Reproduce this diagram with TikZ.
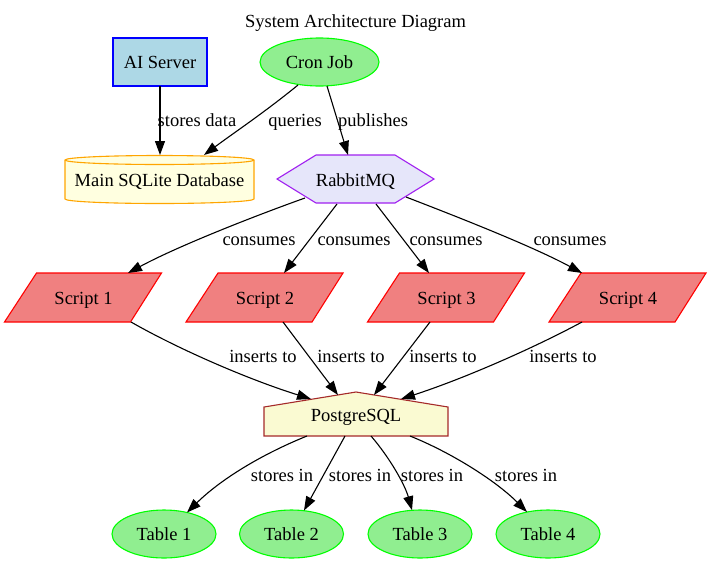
\documentclass[tikz,border=0pt]{standalone}
\usepackage{fontspec}
\setmainfont{Liberation Serif}
\usetikzlibrary{arrows.meta,calc,shapes.geometric}
\definecolor{gvlightblue}{HTML}{ADD8E6}
\definecolor{gvblue}{HTML}{0000FF}
\definecolor{gvlightgreen}{HTML}{90EE90}
\definecolor{gvgreen}{HTML}{00FF00}
\definecolor{gvlightyellow}{HTML}{FFFFE0}
\definecolor{gvorange}{HTML}{FFA500}
\definecolor{gvlavender}{HTML}{E6E6FA}
\definecolor{gvpurple}{HTML}{A020F0}
\definecolor{gvcoral}{HTML}{F08080}
\definecolor{gvred}{HTML}{FF0000}
\definecolor{gvgold}{HTML}{FAFAD2}
\definecolor{gvbrown}{HTML}{A52A2A}
\begin{document}
\begin{tikzpicture}[x=1pt,y=-1pt,
  txt/.style={font=\fontsize{18.5pt}{21pt}\selectfont, inner sep=0pt, text height=14pt, text depth=2pt},
  edge/.style={draw=black, line width=1.1pt, -{Triangle[length=14pt,width=10pt]}},
  aibox/.style={draw=gvblue, fill=gvlightblue, line width=1.1pt},
  greenell/.style={draw=gvgreen, fill=gvlightgreen, line width=1.1pt},
  dbshape/.style={draw=gvorange, fill=gvlightyellow, line width=1.1pt},
  hexshape/.style={draw=gvpurple, fill=gvlavender, line width=1.1pt},
  scriptshape/.style={draw=gvred, fill=gvcoral, line width=1.1pt},
  houseshape/.style={draw=gvbrown, fill=gvgold, line width=1.1pt}]
\useasboundingbox (0,0) rectangle (711,563);

% title
\node[txt] (title) at (355.5,21.3) {System Architecture Diagram};

% AI Server
\draw[aibox] (113,38) rectangle (207,86);
\node[txt] (ai) at (160,62.3) {AI Server};

% Cron Job
\draw[greenell] (319.5,62) ellipse[x radius=59.5, y radius=24];
\node[txt] (cron) at (319.5,62.3) {Cron Job};

% Main SQLite Database (cylinder)
\draw[dbshape] (65,160) -- (65,199) arc[start angle=180, end angle=0, x radius=94.5, y radius=4.5]
  -- (254,160) arc[start angle=0, end angle=-180, x radius=94.5, y radius=4.5] -- cycle;
\draw[draw=gvorange, line width=1.1pt] (65,160) arc[start angle=180, end angle=0, x radius=94.5, y radius=4.5];
\node[txt] (db) at (159.5,180) {Main SQLite Database};

% RabbitMQ (hexagon)
\draw[hexshape] (277,179) -- (316,155) -- (395,155) -- (434,179) -- (395,203) -- (316,203) -- cycle;
\node[txt] (rmq) at (355.5,180) {RabbitMQ};

% Scripts
\foreach \i/\x in {1/83.5,2/265,3/446.5,4/628} {
  \draw[scriptshape] (\x-79,322) -- (\x+47,322) -- (\x+78,273) -- (\x-47,273) -- cycle;
  \node[txt] (s\i) at (\x,298.3) {Script \i};
}

% PostgreSQL (house)
\draw[houseshape] (264,436) -- (264,407) -- (356,392) -- (448,407) -- (448,436) -- cycle;
\node[txt] (pg) at (356,415.7) {PostgreSQL};

% Tables
\foreach \i/\x in {1/164,2/291.5,3/420,4/548} {
  \draw[greenell] (\x,534) ellipse[x radius=52, y radius=24];
  \node[txt] (t\i) at (\x,534) {Table \i};
}

% edges top
\draw[edge] ($(ai)+(0,23.7)$) -- ($(db)+(0.5,-25)$);
\draw[edge] ($(cron)+(-21.5,22.7)$) .. controls (265,112) and (235,132) .. ($(db)+(44.5,-25)$);
\draw[edge] ($(cron)+(7.5,23.7)$) -- ($(rmq)+(-7.5,-25)$);

% RabbitMQ -> scripts
\draw[edge] ($(rmq)+(-50.5,18)$) .. controls (260,214) and (180,245) .. ($(s1)+(44.5,-25.3)$);
\draw[edge] ($(rmq)+(-18.5,24)$) -- ($(s2)+(19,-25.3)$);
\draw[edge] ($(rmq)+(20.5,24)$) -- ($(s3)+(-17.5,-25.3)$);
\draw[edge] ($(rmq)+(50.5,17)$) .. controls (450,214) and (530,245) .. ($(s4)+(-46,-25.3)$);

% scripts -> PostgreSQL
\draw[edge] ($(s1)+(47.5,23.7)$) .. controls (180,350) and (250,380) .. ($(pg)+(-45,-16.7)$);
\draw[edge] ($(s2)+(18,23.7)$) -- ($(pg)+(-18,-20.7)$);
\draw[edge] ($(s3)+(-16.5,23.7)$) -- ($(pg)+(18,-20.7)$);
\draw[edge] ($(s4)+(-46,23.7)$) .. controls (530,350) and (460,380) .. ($(pg)+(45,-16.7)$);

% PostgreSQL -> tables
\draw[edge] ($(pg)+(-49,20.3)$) .. controls (260,455) and (220,480) .. ($(t1)+(23,-21.5)$);
\draw[edge] ($(pg)+(-11,20.3)$) -- ($(t2)+(12.5,-23.5)$);
\draw[edge] ($(pg)+(15,20.3)$) .. controls (390,458) and (405,485) .. ($(t3)+(-8,-23.8)$);
\draw[edge] ($(pg)+(54,20.3)$) .. controls (450,452) and (495,480) .. ($(t4)+(-21,-22)$);

% labels
\node[txt] (l1) at (197,120.7) {stores data};
\node[txt] (l2) at (295,120.7) {queries};
\node[txt] (l3) at (373,120.7) {publishes};
\node[txt] (c1) at (259,239) {consumes};
\node[txt] (c2) at (354,239) {consumes};
\node[txt] (c3) at (446,239) {consumes};
\node[txt] (c4) at (570,239) {consumes};
\node[txt] (i1) at (263,356.7) {inserts to};
\node[txt] (i2) at (351,356.7) {inserts to};
\node[txt] (i3) at (443,356.7) {inserts to};
\node[txt] (i4) at (563,356.7) {inserts to};
\node[txt] (k1) at (282,475) {stores in};
\node[txt] (k2) at (360,475) {stores in};
\node[txt] (k3) at (432,475) {stores in};
\node[txt] (k4) at (526,475) {stores in};
\end{tikzpicture}
\end{document}
